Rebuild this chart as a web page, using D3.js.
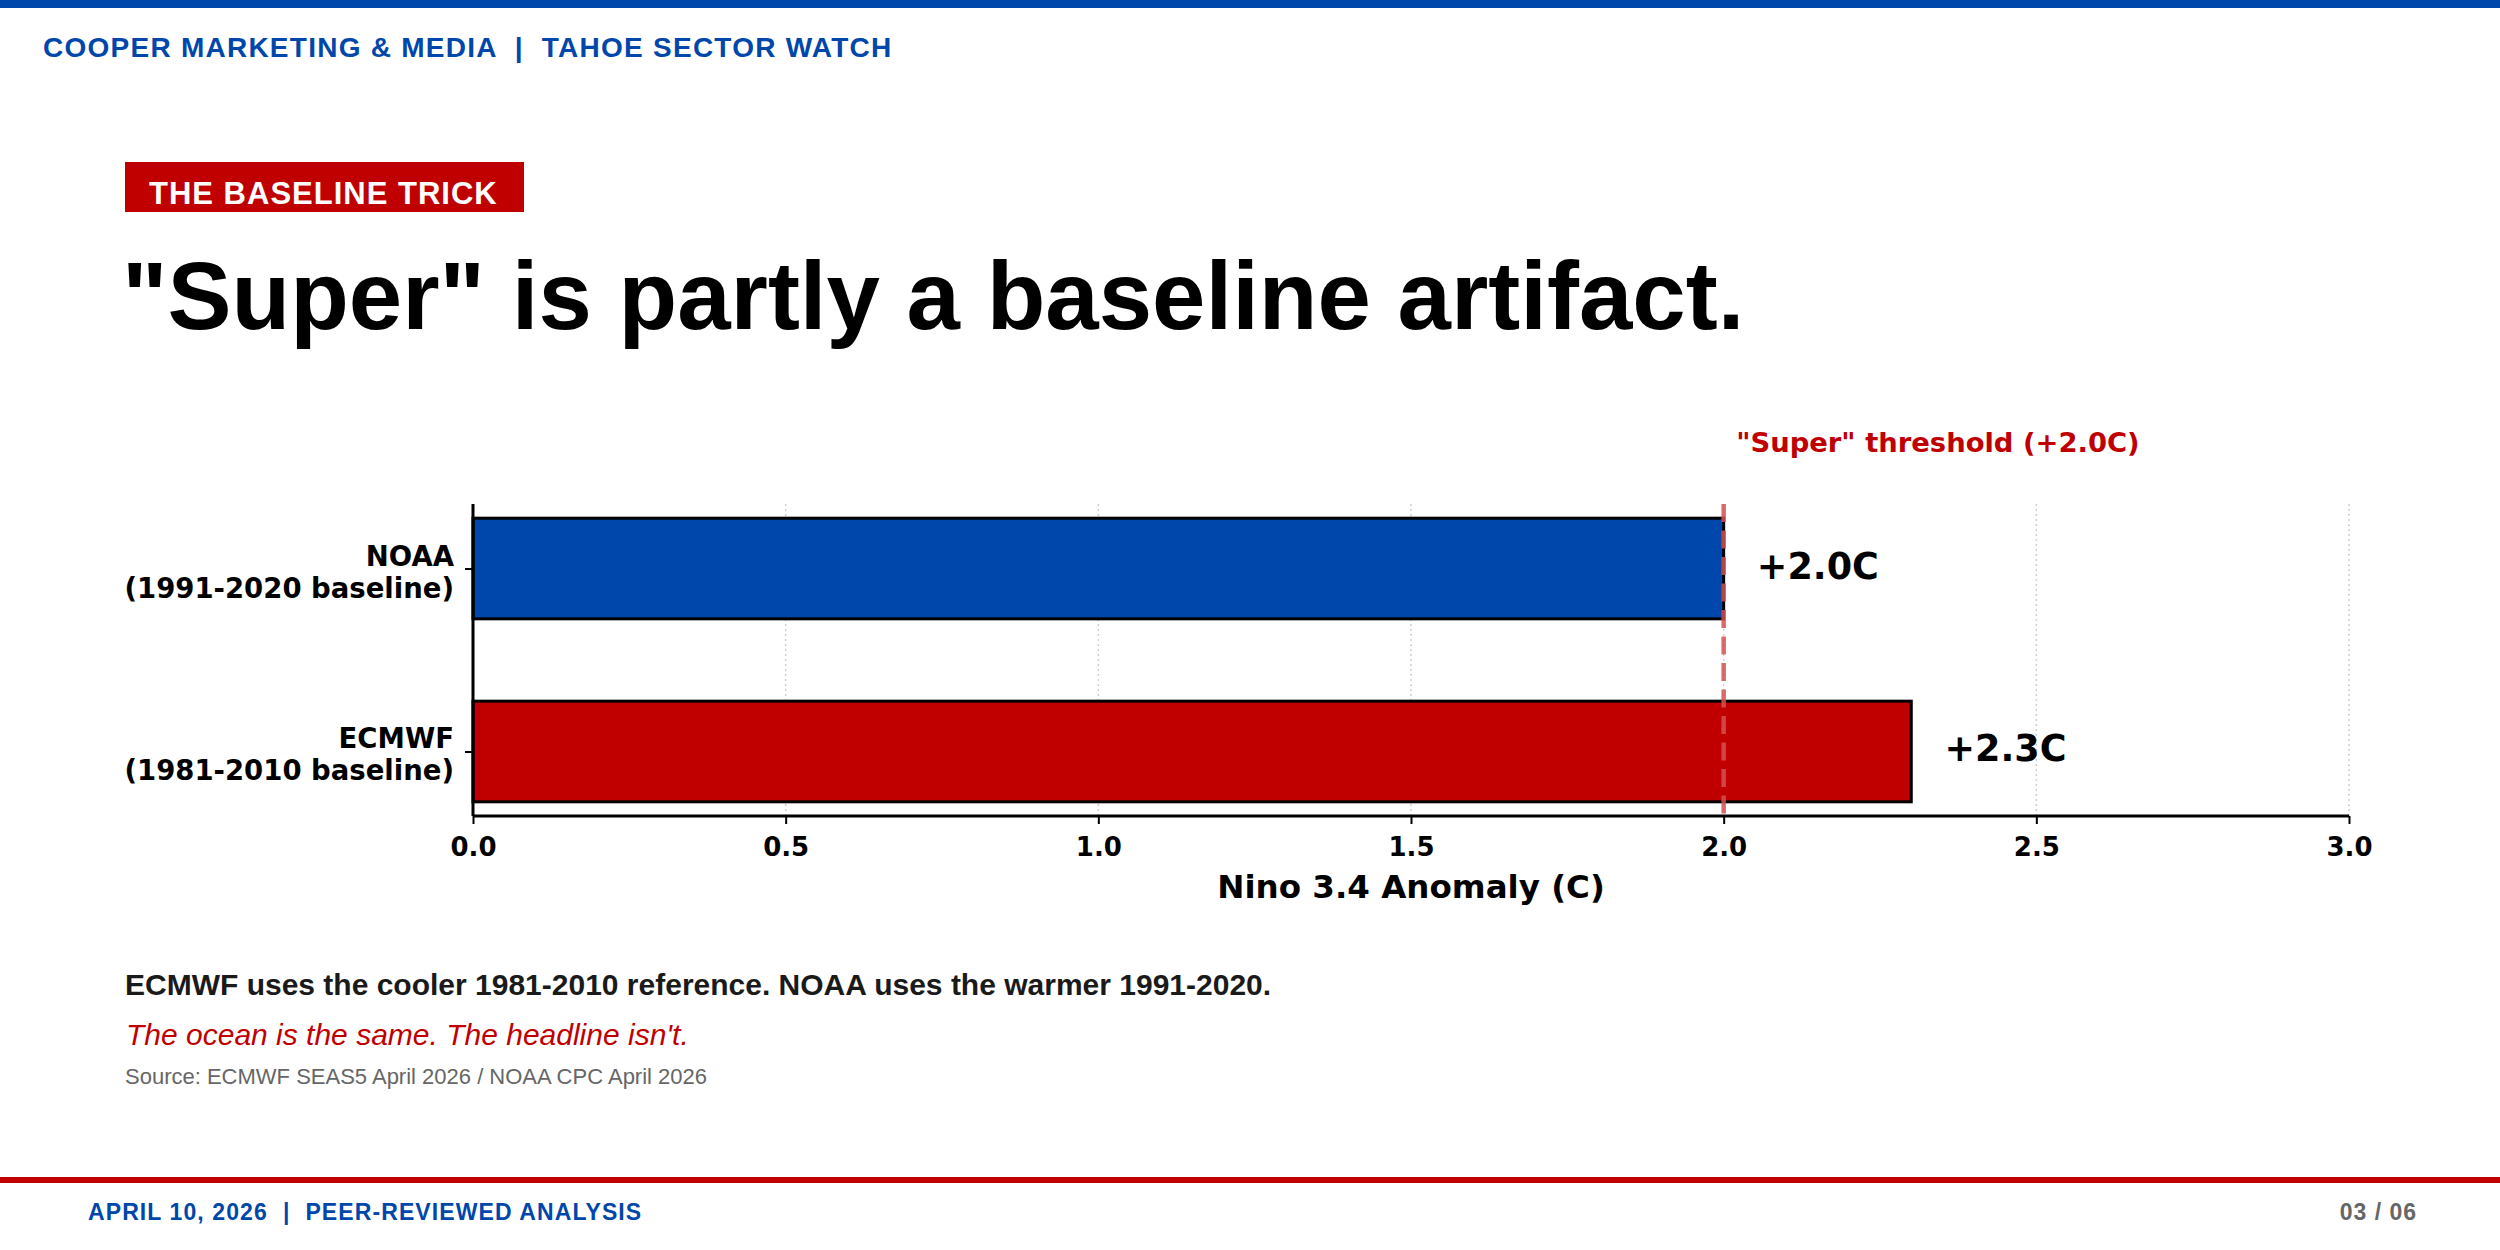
<!DOCTYPE html>
<html>
<head>
<meta charset="utf-8">
<script src="https://cdn.jsdelivr.net/npm/d3@7"></script>
<style>
  html, body { margin: 0; padding: 0; background: #fff; }
  svg { display: block; }
  .sans { font-family: "Liberation Sans", Arial, sans-serif; }
  .dv { font-family: "DejaVu Sans", sans-serif; font-weight: bold; }
</style>
</head>
<body>
<svg id="chart" width="2500" height="1250"></svg>
<script>
// data
const categories = ["ECMWF\n(1981-2010 baseline)", "NOAA\n(1991-2020 baseline)"]
const anomalies = [2.3, 2.0]
const barColors = ["#c00000", "#0047ab"]
const valueLabels = ["+2.3C", "+2.0C"]
const xTicks = [0, 0.5, 1.0, 1.5, 2.0, 2.5, 3.0]
const threshold = 2.0
const thresholdLabel = "\"Super\" threshold (+2.0C)"

const blue = "#0047ab", red = "#c00000"
const svg = d3.select("#chart")

// page chrome
svg.append("rect").attr("x", 0).attr("y", 0).attr("width", 2500).attr("height", 8).attr("fill", blue)
svg.append("text").attr("class", "sans")
  .attr("x", 43).attr("y", 57)
  .attr("font-size", 28).attr("font-weight", "bold").attr("letter-spacing", 1.25)
  .attr("fill", blue).style("white-space", "pre")
  .text("COOPER MARKETING & MEDIA  |  TAHOE SECTOR WATCH")

svg.append("rect").attr("x", 125).attr("y", 162).attr("width", 399).attr("height", 50).attr("fill", red)
svg.append("text").attr("class", "sans")
  .attr("x", 149).attr("y", 204)
  .attr("font-size", 31).attr("font-weight", "bold").attr("letter-spacing", 1)
  .attr("fill", "#fff")
  .text("THE BASELINE TRICK")

svg.append("text").attr("class", "sans")
  .attr("x", 122).attr("y", 329)
  .attr("font-size", 96).attr("font-weight", "bold")
  .attr("fill", "#000")
  .text("\"Super\" is partly a baseline artifact.")

// chart
const x = d3.scaleLinear().domain([0, 3]).range([473, 2349])
const y = d3.scaleLinear().domain([-0.3525, 1.3525]).range([816, 504])
const barH = y(0) - y(0.55)

const g = svg.append("g")

// grid
g.selectAll(".grid").data(xTicks).enter().append("line")
  .attr("x1", d => x(d)).attr("x2", d => x(d))
  .attr("y1", y.range()[1]).attr("y2", y.range()[0])
  .attr("stroke", "#cfcfcf").attr("stroke-width", 1.5).attr("stroke-dasharray", "2,3")

// bars
g.selectAll(".bar").data(anomalies).enter().append("rect")
  .attr("x", x(0))
  .attr("y", (d, i) => y(i) - barH / 2)
  .attr("width", d => x(d) - x(0))
  .attr("height", barH)
  .attr("fill", (d, i) => barColors[i])
  .attr("stroke", "#000").attr("stroke-width", 3)

// threshold
g.append("line")
  .attr("x1", x(threshold)).attr("x2", x(threshold))
  .attr("y1", y.range()[1]).attr("y2", y.range()[0])
  .attr("stroke", "rgb(214,80,80)").attr("stroke-opacity", 0.85)
  .attr("stroke-width", 4.5).attr("stroke-dasharray", "18,8.5")

g.append("text").attr("class", "dv")
  .attr("x", x(threshold + 0.02)).attr("y", 452)
  .attr("font-size", 27.4).attr("fill", red)
  .text(thresholdLabel)

// value labels
g.selectAll(".val").data(anomalies).enter().append("text").attr("class", "dv")
  .attr("x", d => x(d + 0.053))
  .attr("y", (d, i) => y(i) + 10)
  .attr("font-size", 36.5).attr("fill", "#000")
  .text((d, i) => valueLabels[i])

// axes
const xAxis = d3.axisBottom(x).tickValues(xTicks).tickFormat(d3.format(".1f")).tickSize(8).tickPadding(10)
const xg = g.append("g").attr("transform", `translate(0,${y.range()[0]})`).call(xAxis)
xg.select(".domain").attr("stroke", "#000").attr("stroke-width", 3).attr("d", `M${x(0)},0H${x(3)}`)
xg.selectAll(".tick line").attr("stroke", "#000").attr("stroke-width", 2)
xg.selectAll(".tick text").attr("class", "dv").attr("font-size", 26).attr("fill", "#000")
  .attr("dy", null).attr("y", 40)

const yAxis = d3.axisLeft(y).tickValues([0, 1]).tickSize(8).tickFormat("")
const yg = g.append("g").attr("transform", `translate(${x(0)},0)`).call(yAxis)
yg.select(".domain").attr("stroke", "#000").attr("stroke-width", 3).attr("d", `M0,${y.range()[1]}V${y.range()[0]}`)
yg.selectAll(".tick line").attr("stroke", "#000").attr("stroke-width", 2)

const yl = g.selectAll(".ylab").data(categories).enter().append("text").attr("class", "dv")
  .attr("text-anchor", "end").attr("font-size", 27.5).attr("fill", "#000")
  .attr("transform", (d, i) => `translate(454,${y(i)})`)
yl.selectAll("tspan").data(d => d.split("\n")).enter().append("tspan")
  .attr("x", 0).attr("y", (d, j) => j === 0 ? -3 : 29)
  .text(d => d)

g.append("text").attr("class", "dv")
  .attr("x", (x(0) + x(3)) / 2).attr("y", 898)
  .attr("text-anchor", "middle").attr("font-size", 32.5).attr("fill", "#000")
  .text("Nino 3.4 Anomaly (C)")

// notes
svg.append("text").attr("class", "sans")
  .attr("x", 125).attr("y", 995)
  .attr("font-size", 30).attr("font-weight", "bold").attr("fill", "#1a1a1a")
  .text("ECMWF uses the cooler 1981-2010 reference. NOAA uses the warmer 1991-2020.")
svg.append("text").attr("class", "sans")
  .attr("x", 126).attr("y", 1045)
  .attr("font-size", 30).attr("font-style", "italic").attr("fill", red)
  .text("The ocean is the same. The headline isn't.")
svg.append("text").attr("class", "sans")
  .attr("x", 125).attr("y", 1084)
  .attr("font-size", 22).attr("fill", "#666")
  .text("Source: ECMWF SEAS5 April 2026 / NOAA CPC April 2026")

// footer
svg.append("rect").attr("x", 0).attr("y", 1177).attr("width", 2500).attr("height", 6).attr("fill", red)
svg.append("text").attr("class", "sans")
  .attr("x", 88).attr("y", 1220)
  .attr("font-size", 23).attr("font-weight", "bold").attr("letter-spacing", 1.1)
  .attr("fill", blue).style("white-space", "pre")
  .text("APRIL 10, 2026  |  PEER-REVIEWED ANALYSIS")
svg.append("text").attr("class", "sans")
  .attr("x", 2417).attr("y", 1220).attr("text-anchor", "end")
  .attr("font-size", 23).attr("font-weight", "bold").attr("letter-spacing", 1)
  .attr("fill", "#666")
  .text("03 / 06")
</script>
</body>
</html>
